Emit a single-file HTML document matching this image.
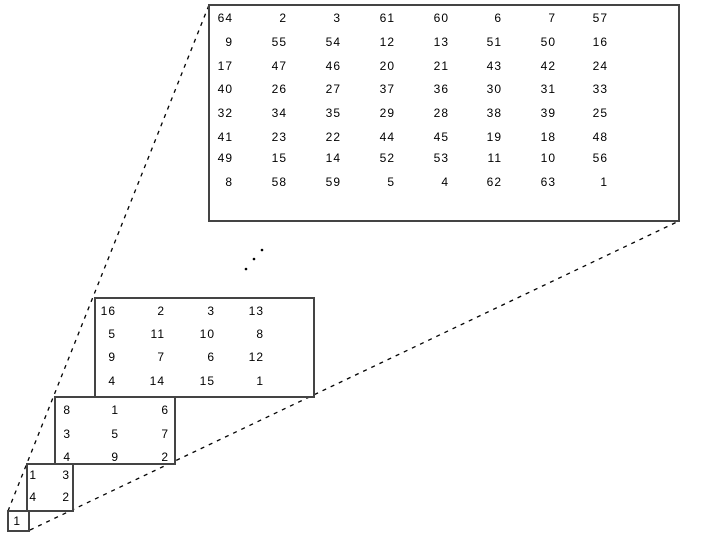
<!DOCTYPE html>
<html><head><style>
html,body{margin:0;padding:0;background:#fff;}
svg{display:block;}
text{font-family:"Liberation Sans",sans-serif;font-size:12px;fill:#000;letter-spacing:1px;}
</style></head><body>
<svg width="718" height="551" viewBox="0 0 718 551" xmlns="http://www.w3.org/2000/svg">
<g fill="none" stroke="#000" stroke-dasharray="4,5" stroke-width="1.3">
<line x1="8" y1="511" x2="209" y2="5"/>
<line x1="30" y1="530" x2="679" y2="221"/>
</g>
<g fill="#fff" stroke="#444" stroke-width="2">
<rect x="209" y="5" width="470" height="216"/>
<rect x="95" y="298" width="219" height="99"/>
<rect x="55" y="397" width="120" height="67"/>
<rect x="27" y="464" width="46" height="47"/>
<rect x="8" y="511" width="21" height="20"/>
</g>
<g fill="#000"><circle cx="246" cy="269" r="1.3"/><circle cx="254" cy="259" r="1.3"/><circle cx="262" cy="250" r="1.3"/></g>
<g text-anchor="end">
<g id="big"></g>
</g>
<script>
var ns="http://www.w3.org/2000/svg";
function put(g,rows,xs,ys){rows.forEach(function(r,i){r.forEach(function(v,j){var t=document.createElementNS(ns,"text");t.setAttribute("x",xs[j]);t.setAttribute("y",ys[i]);t.textContent=v;g.appendChild(t);});});}
var g=document.getElementById("big");
put(g,[[64,2,3,61,60,6,7,57],[9,55,54,12,13,51,50,16],[17,47,46,20,21,43,42,24],[40,26,27,37,36,30,31,33],[32,34,35,29,28,38,39,25],[41,23,22,44,45,19,18,48],[49,15,14,52,53,11,10,56],[8,58,59,5,4,62,63,1]],
[233,287,341,395,449,502,556,608],[22,46,70,93,117,141,162,186]);
put(g,[[16,2,3,13],[5,11,10,8],[9,7,6,12],[4,14,15,1]],[116,165,215,264],[315,338,361,385]);
put(g,[[8,1,6],[3,5,7],[4,9,2]],[71,119,169],[414,438,461]);
put(g,[[1,3],[4,2]],[37,70],[479,501]);
put(g,[[1]],[21],[525]);
</script>
</svg>
</body></html>
